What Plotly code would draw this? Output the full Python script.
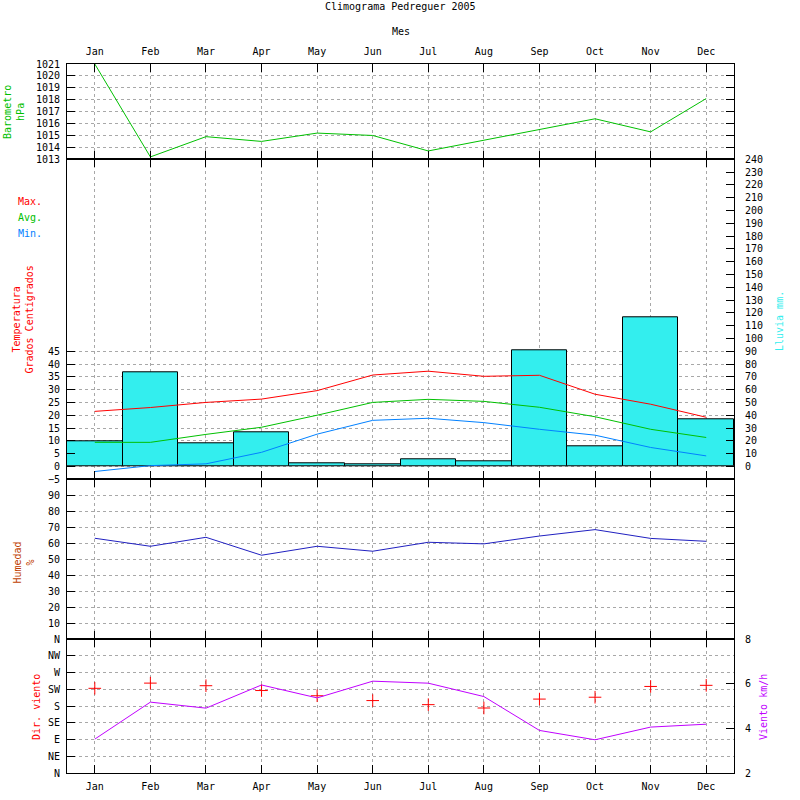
import plotly.graph_objects as go

months = ["Jan", "Feb", "Mar", "Apr", "May", "Jun", "Jul", "Aug", "Sep", "Oct", "Nov", "Dec"]
barometer = [1021.0, 1013.2, 1014.9, 1014.5, 1015.2, 1015.0, 1013.7, 1014.6, 1015.5, 1016.4, 1015.3, 1018.1]
temp_max = [21.5, 23.0, 25.0, 26.3, 29.6, 35.7, 37.2, 35.2, 35.6, 28.2, 24.3, 19.2]
temp_avg = [9.4, 9.4, 12.5, 15.3, 20.0, 25.0, 26.2, 25.4, 23.1, 19.4, 14.5, 11.3]
temp_min = [-2.0, 0.3, 1.0, 5.5, 12.6, 18.0, 18.8, 17.1, 14.5, 12.2, 7.4, 4.1]
rain = [19.5, 73.5, 18.0, 26.6, 2.3, 1.3, 5.5, 3.9, 90.7, 15.6, 116.5, 36.7]
humidity = [63.1, 58.1, 63.7, 52.5, 58.1, 55.0, 60.6, 59.6, 64.5, 68.5, 63.0, 61.2]
wind_dir = [228, 242, 235, 222, 208, 195, 184, 175, 199, 204, 233, 236]
wind_speed = [3.52, 5.18, 4.91, 5.95, 5.37, 6.12, 6.03, 5.43, 3.91, 3.49, 4.06, 4.19]

dir_ticks = [0, 45, 90, 135, 180, 225, 270, 315, 360]
dir_labels = ["N", "NE", "E", "SE", "S", "SW", "W", "NW", "N"]

x = list(range(len(months)))
grid = dict(showgrid=True, gridcolor="#a8a8a8", griddash="3px,3px", gridwidth=1)
frame = dict(showline=True, linecolor="black", linewidth=1, ticks="inside",
             ticklen=8, tickcolor="black", zeroline=False, automargin=False)

fig = go.Figure()

fig.add_trace(go.Scatter(x=x, y=wind_dir, mode="markers", xaxis="x", yaxis="y",
                         marker=dict(symbol="cross-thin", size=9, color="red",
                                     line=dict(color="red", width=1))))
fig.add_trace(go.Scatter(x=x, y=wind_speed, mode="lines", xaxis="x", yaxis="y2",
                         line=dict(color="#c000ff", width=1)))
fig.add_trace(go.Scatter(x=x, y=humidity, mode="lines", xaxis="x2", yaxis="y3",
                         line=dict(color="#2020c0", width=1)))
fig.add_trace(go.Bar(x=x, y=rain, width=1, xaxis="x3", yaxis="y4",
                     marker=dict(color="#33eeee", line=dict(color="black", width=1))))
fig.add_trace(go.Scatter(x=x, y=temp_max, mode="lines", xaxis="x3", yaxis="y5",
                         line=dict(color="#ff0000", width=1)))
fig.add_trace(go.Scatter(x=x, y=temp_avg, mode="lines", xaxis="x3", yaxis="y5",
                         line=dict(color="#00c000", width=1)))
fig.add_trace(go.Scatter(x=x, y=temp_min, mode="lines", xaxis="x3", yaxis="y5",
                         line=dict(color="#0080ff", width=1)))
fig.add_trace(go.Scatter(x=x, y=barometer, mode="lines", xaxis="x4", yaxis="y6",
                         line=dict(color="#00c000", width=1)))

xbase = dict(range=[-0.5, 11.5], tickvals=x, ticktext=months, mirror="ticks", **frame, **grid)
d1, d2, d3 = 0.1886, 0.4144, 0.8656

fig.update_layout(
    width=800, height=800,
    margin=dict(l=67, r=66, t=64, b=27),
    paper_bgcolor="white", plot_bgcolor="white",
    font=dict(family="DejaVu Sans Mono", size=10, color="black"),
    showlegend=False,
    bargap=0,
    xaxis=dict(anchor="y", ticklabelstandoff=4, **xbase),
    xaxis2=dict(anchor="y3", showticklabels=False, **xbase),
    xaxis3=dict(anchor="y4", showticklabels=False, **xbase),
    xaxis4=dict(anchor="y6", side="top", ticklabelstandoff=4, **xbase),
    yaxis=dict(domain=[0, d1], anchor="x", range=[0, 360], tickvals=dir_ticks,
               ticktext=dir_labels, mirror=True, ticklabelstandoff=4, **frame, **grid),
    yaxis2=dict(overlaying="y", side="right", anchor="x", range=[2, 8],
                tickvals=[2, 4, 6, 8], showgrid=False, ticklabelstandoff=8, **frame),
    yaxis3=dict(domain=[d1, d2], anchor="x2", range=[0, 100], tickvals=list(range(10, 100, 10)),
                mirror="ticks", ticklabelstandoff=4, **frame, **grid),
    yaxis4=dict(domain=[d2, d3], anchor="x3", side="right", range=[-10, 240],
                tickvals=list(range(0, 250, 10)), showgrid=False, ticklabelstandoff=8, **frame),
    yaxis5=dict(overlaying="y4", side="left", anchor="x3", range=[-5, 120],
                tickvals=list(range(-5, 50, 5)), ticklabelstandoff=4, **frame, **grid),
    yaxis6=dict(domain=[d3, 1], anchor="x4", range=[1013, 1021],
                tickvals=list(range(1013, 1022)), mirror="ticks", ticklabelstandoff=4,
                **frame, **grid),
)

notes = [
    ("Climograma Pedreguer 2005", 0.5, 1.0818, 0, "black", "center"),
    ("Mes", 0.5, 1.0465, 0, "black", "center"),
    ("Barometro<br>hPa", -0.0795, 0.9323, -90, "#00c000", "center"),
    ("Max.", -0.0769, 0.8058, 0, "#ff0000", "left"),
    ("Avg.", -0.0769, 0.7832, 0, "#00c000", "left"),
    ("Min.", -0.0769, 0.7612, 0, "#0080ff", "left"),
    ("Temperatura<br>Grados Centigrados", -0.0652, 0.6389, -90, "#ff0000", "center"),
    ("Humedad<br>%", -0.0652, 0.2962, -90, "#c04000", "center"),
    ("Dir. viento", -0.045, 0.0931, -90, "#ff0000", "center"),
    ("Viento km/h", 1.045, 0.0931, -90, "#c000ff", "center"),
    ("Lluvia mm.", 1.0675, 0.6375, -90, "#33eeee", "center"),
]
for text, nx, ny, angle, color, anchor in notes:
    fig.add_annotation(text=text, x=nx, y=ny, xref="paper", yref="paper", showarrow=False,
                       textangle=angle, xanchor=anchor, yanchor="middle",
                       font=dict(color=color, size=10))

# drop the default body margin so the figure sits at the page corner
fig.write_html("out.html", config={"displayModeBar": False},
               post_script="document.body.style.margin = '0px';")
